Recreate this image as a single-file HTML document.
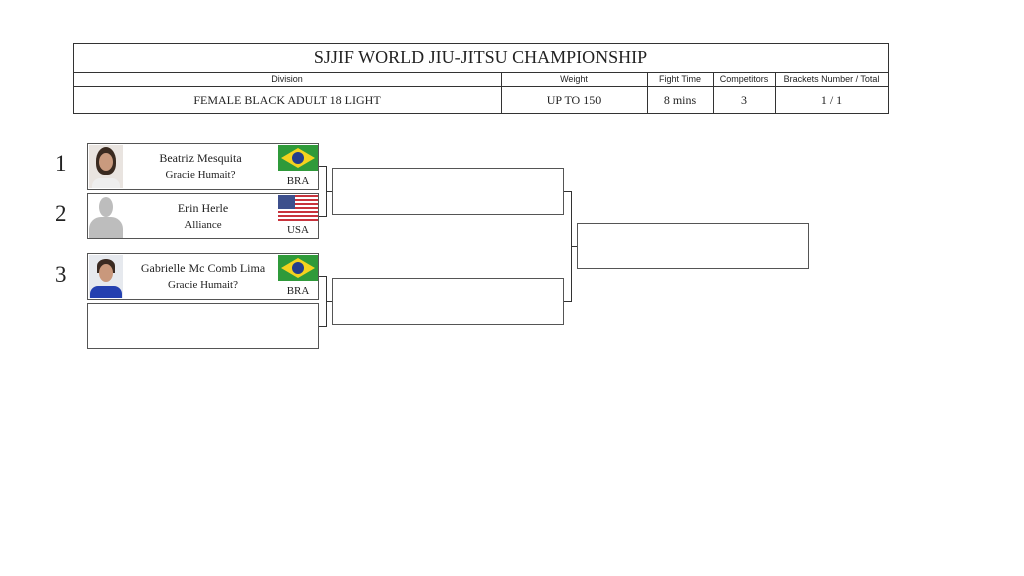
<!DOCTYPE html>
<html><head><style>
body{margin:0;width:1024px;height:576px;background:#fff;position:relative;font-family:"Liberation Serif",serif;color:#222;overflow:hidden}
.a{position:absolute}
.c{position:absolute;text-align:center;white-space:nowrap}
.box{position:absolute;border:1px solid #555;box-sizing:border-box;background:#fff}
</style></head><body>
<svg class="a" style="left:0;top:0" width="1024" height="576">
<g fill="none" stroke="#333" stroke-width="1">
<rect x="73.5" y="43.5" width="815" height="70"/>
<line x1="73" y1="72.5" x2="888" y2="72.5"/>
<line x1="73" y1="86.5" x2="888" y2="86.5"/>
<line x1="501.5" y1="72" x2="501.5" y2="113"/>
<line x1="647.5" y1="72" x2="647.5" y2="113"/>
<line x1="713.5" y1="72" x2="713.5" y2="113"/>
<line x1="775.5" y1="72" x2="775.5" y2="113"/>
<path d="M318 166.5H326.5V216.5H318M326.5 191.5H333"/>
<path d="M318 276.5H326.5V326.5H318M326.5 301.5H333"/>
<path d="M563 191.5H571.5V301.5H563M571.5 246.5H578"/>
</g>
</svg>
<div class="c" style="left:73px;width:815px;top:47px;font-size:18px">SJJIF WORLD JIU-JITSU CHAMPIONSHIP</div>
<div class="c" style="font-family:'Liberation Sans',sans-serif;font-size:9px;top:74px;left:73px;width:428px">Division</div>
<div class="c" style="font-family:'Liberation Sans',sans-serif;font-size:9px;top:74px;left:501px;width:146px">Weight</div>
<div class="c" style="font-family:'Liberation Sans',sans-serif;font-size:9px;top:74px;left:647px;width:66px">Fight Time</div>
<div class="c" style="font-family:'Liberation Sans',sans-serif;font-size:9px;top:74px;left:713px;width:62px">Competitors</div>
<div class="c" style="font-family:'Liberation Sans',sans-serif;font-size:9px;top:74px;left:775px;width:113px">Brackets Number / Total</div>
<div class="c" style="font-size:12px;top:93px;left:73px;width:428px">FEMALE BLACK ADULT 18 LIGHT</div>
<div class="c" style="font-size:12px;top:93px;left:501px;width:146px">UP TO 150</div>
<div class="c" style="font-size:12px;top:93px;left:647px;width:66px">8 mins</div>
<div class="c" style="font-size:12px;top:93px;left:713px;width:62px">3</div>
<div class="c" style="font-size:12px;top:93px;left:775px;width:113px">1 / 1</div>

<div class="a" style="left:55px;top:151px;font-size:23px">1</div>
<div class="a" style="left:55px;top:201px;font-size:23px">2</div>
<div class="a" style="left:55px;top:262px;font-size:23px">3</div>

<!-- box1 -->
<div class="box" style="left:87px;top:143px;width:232px;height:47px"></div>
<div class="a" style="left:89px;top:145px;width:34px;height:43px;background:#e9e4e0"><div class="a" style="left:7px;top:2px;width:20px;height:28px;border-radius:50% 50% 40% 40%;background:#3a2a20"></div><div class="a" style="left:10px;top:8px;width:14px;height:18px;border-radius:50%;background:#c99a7e"></div><div class="a" style="left:3px;top:33px;width:28px;height:10px;background:#eee;border-radius:8px 8px 0 0"></div></div>
<div class="c" style="left:123px;width:155px;top:151px;font-size:12px">Beatriz Mesquita</div>
<div class="c" style="left:123px;width:155px;top:169px;font-size:11px">Gracie Humait?</div>
<div class="a" style="left:278px;top:145px;width:40px;height:26px;background:#2f9a3a"><div class="a" style="left:4px;top:3px;width:0;height:0;border:16px solid transparent;border-top-width:10px;border-bottom-width:10px;border-left:0;border-right:0"></div><svg width="40" height="26"><polygon points="20,3 37,13 20,23 3,13" fill="#f4d21f"/><circle cx="20" cy="13" r="6" fill="#243d8c"/></svg></div>
<div class="c" style="left:278px;width:40px;top:175px;font-size:11px">BRA</div>
<!-- box2 -->
<div class="box" style="left:87px;top:193px;width:232px;height:46px"></div>
<div class="a" style="left:89px;top:195px;width:34px;height:43px;background:#fff"><div class="a" style="left:10px;top:2px;width:14px;height:20px;border-radius:50%;background:#bdbdbd"></div><div class="a" style="left:0;top:22px;width:34px;height:21px;border-radius:12px 12px 0 0;background:#bdbdbd"></div></div>
<div class="c" style="left:123px;width:160px;top:201px;font-size:12px">Erin Herle</div>
<div class="c" style="left:123px;width:160px;top:219px;font-size:11px">Alliance</div>
<div class="a" style="left:278px;top:195px;width:40px;height:26px;background:repeating-linear-gradient(#c8333c 0 2px,#fff 2px 4px)"><div class="a" style="left:0;top:0;width:17px;height:14px;background:#3d4f8c"></div></div>
<div class="c" style="left:278px;width:40px;top:224px;font-size:11px">USA</div>
<!-- box3 -->
<div class="box" style="left:87px;top:253px;width:232px;height:47px"></div>
<div class="a" style="left:89px;top:255px;width:34px;height:43px;background:#e6e9ee"><div class="a" style="left:8px;top:4px;width:18px;height:14px;border-radius:50% 50% 0 0;background:#3a2a22"></div><div class="a" style="left:10px;top:9px;width:14px;height:18px;border-radius:50%;background:#c9987c"></div><div class="a" style="left:1px;top:31px;width:32px;height:12px;background:#2440b0;border-radius:8px 8px 0 0"></div></div>
<div class="c" style="left:123px;width:160px;top:261px;font-size:12px">Gabrielle Mc Comb Lima</div>
<div class="c" style="left:123px;width:160px;top:279px;font-size:11px">Gracie Humait?</div>
<div class="a" style="left:278px;top:255px;width:40px;height:26px;background:#2f9a3a"><svg width="40" height="26"><polygon points="20,3 37,13 20,23 3,13" fill="#f4d21f"/><circle cx="20" cy="13" r="6" fill="#243d8c"/></svg></div>
<div class="c" style="left:278px;width:40px;top:285px;font-size:11px">BRA</div>
<!-- box4 -->
<div class="box" style="left:87px;top:303px;width:232px;height:46px"></div>

<div class="box" style="left:332px;top:168px;width:232px;height:47px"></div>
<div class="box" style="left:332px;top:278px;width:232px;height:47px"></div>
<div class="box" style="left:577px;top:223px;width:232px;height:46px"></div>
</body></html>
